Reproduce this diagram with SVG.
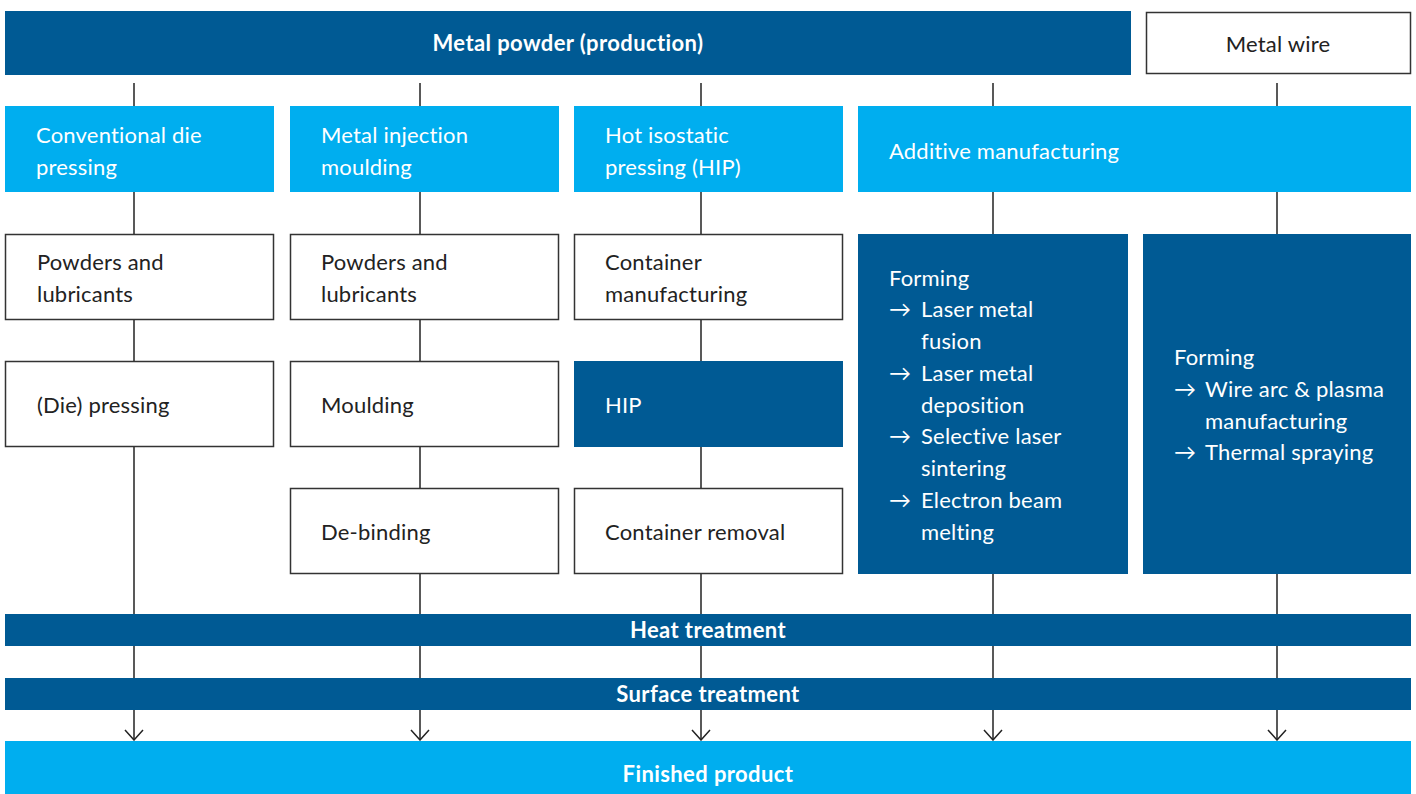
<svg xmlns="http://www.w3.org/2000/svg" width="1416" height="794" viewBox="0 0 1416 794">
<defs>
<style>
.dark{fill:#005A94}
.cyan{fill:#00AEEF}
.wbox{fill:#fff;stroke:#333;stroke-width:1.5}
.t{font-family:Lato,"Open Sans",sans-serif;font-size:22px;letter-spacing:0.2px}
.tw{fill:#fff}
.tk{fill:#222}
.b{font-family:Lato,"Open Sans",sans-serif;font-size:22px;font-weight:bold;fill:#fff;text-anchor:middle;letter-spacing:0.4px}
.conn{stroke:#222;stroke-width:1.5;fill:none}
</style>
<marker id="ah" viewBox="0 0 12 20" markerWidth="12" markerHeight="20" refX="11" refY="10" orient="auto" markerUnits="userSpaceOnUse">
<path d="M1,1 L11,10 L1,19" fill="none" stroke="#222" stroke-width="1.5"/>
</marker>
</defs>
<rect width="1416" height="794" fill="#fff"/>
<g id="connectors">
<line class="conn" x1="134" y1="83" x2="134" y2="740" marker-end="url(#ah)"/>
<line class="conn" x1="420" y1="83" x2="420" y2="740" marker-end="url(#ah)"/>
<line class="conn" x1="701" y1="83" x2="701" y2="740" marker-end="url(#ah)"/>
<line class="conn" x1="993" y1="83" x2="993" y2="740" marker-end="url(#ah)"/>
<line class="conn" x1="1277" y1="83" x2="1277" y2="740" marker-end="url(#ah)"/>
</g>
<g id="metal-powder"><rect class="dark" x="5" y="11" width="1126" height="64"/><text class="b" x="568" y="51">Metal powder (production)</text></g>
<g id="metal-wire"><rect class="wbox" x="1146.5" y="12.5" width="264" height="61"/><text class="t tk" x="1278" y="52" text-anchor="middle">Metal wire</text></g>
<g id="conventional"><rect class="cyan" x="5" y="106" width="269" height="86"/><text class="t tw" x="36" y="143">Conventional die<tspan x="36" dy="32">pressing</tspan></text></g>
<g id="mim"><rect class="cyan" x="290" y="106" width="269" height="86"/><text class="t tw" x="321" y="143">Metal injection<tspan x="321" dy="32">moulding</tspan></text></g>
<g id="hip-process"><rect class="cyan" x="574" y="106" width="269" height="86"/><text class="t tw" x="605" y="143">Hot isostatic<tspan x="605" dy="32">pressing (HIP)</tspan></text></g>
<g id="additive"><rect class="cyan" x="858" y="106" width="553" height="86"/><text class="t tw" x="889" y="159">Additive manufacturing</text></g>
<g id="powders1"><rect class="wbox" x="5.5" y="234.5" width="268" height="85"/><text class="t tk" x="37" y="270">Powders and<tspan x="37" dy="32">lubricants</tspan></text></g>
<g id="powders2"><rect class="wbox" x="290.5" y="234.5" width="268" height="85"/><text class="t tk" x="321" y="270">Powders and<tspan x="321" dy="32">lubricants</tspan></text></g>
<g id="container-mfg"><rect class="wbox" x="574.5" y="234.5" width="268" height="85"/><text class="t tk" x="605" y="270">Container<tspan x="605" dy="32">manufacturing</tspan></text></g>
<g id="die-pressing"><rect class="wbox" x="5.5" y="361.5" width="268" height="85"/><text class="t tk" x="37" y="413">(Die) pressing</text></g>
<g id="moulding"><rect class="wbox" x="290.5" y="361.5" width="268" height="85"/><text class="t tk" x="321" y="413">Moulding</text></g>
<g id="hip"><rect class="dark" x="574" y="361" width="269" height="86"/><text class="t tw" x="605" y="413">HIP</text></g>
<g id="debinding"><rect class="wbox" x="290.5" y="488.5" width="268" height="85"/><text class="t tk" x="321" y="540">De-binding</text></g>
<g id="container-removal"><rect class="wbox" x="574.5" y="488.5" width="268" height="85"/><text class="t tk" x="605" y="540">Container removal</text></g>
<g id="am-forming"><rect class="dark" x="858" y="234" width="270" height="340"/>
<text class="t tw" x="889" y="286">Forming</text>
<text class="t tw" x="889" y="317">→</text><text class="t tw" x="921" y="317">Laser metal<tspan x="921" dy="32">fusion</tspan></text>
<text class="t tw" x="889" y="381">→</text><text class="t tw" x="921" y="381">Laser metal<tspan x="921" dy="32">deposition</tspan></text>
<text class="t tw" x="889" y="444">→</text><text class="t tw" x="921" y="444">Selective laser<tspan x="921" dy="32">sintering</tspan></text>
<text class="t tw" x="889" y="508">→</text><text class="t tw" x="921" y="508">Electron beam<tspan x="921" dy="32">melting</tspan></text>
</g>
<g id="wire-forming"><rect class="dark" x="1143" y="234" width="268" height="340"/>
<text class="t tw" x="1174" y="365">Forming</text>
<text class="t tw" x="1174" y="397">→</text><text class="t tw" x="1205" y="397">Wire arc &amp; plasma<tspan x="1205" dy="32">manufacturing</tspan></text>
<text class="t tw" x="1174" y="460">→</text><text class="t tw" x="1205" y="460">Thermal spraying</text>
</g>
<g id="heat-treatment"><rect class="dark" x="5" y="614" width="1406" height="32"/><text class="b" x="708" y="638">Heat treatment</text></g>
<g id="surface-treatment"><rect class="dark" x="5" y="678" width="1406" height="32"/><text class="b" x="708" y="702">Surface treatment</text></g>
<g id="finished-product"><rect class="cyan" x="5" y="741" width="1406" height="53"/><text class="b" x="708" y="782">Finished product</text></g>
</svg>
